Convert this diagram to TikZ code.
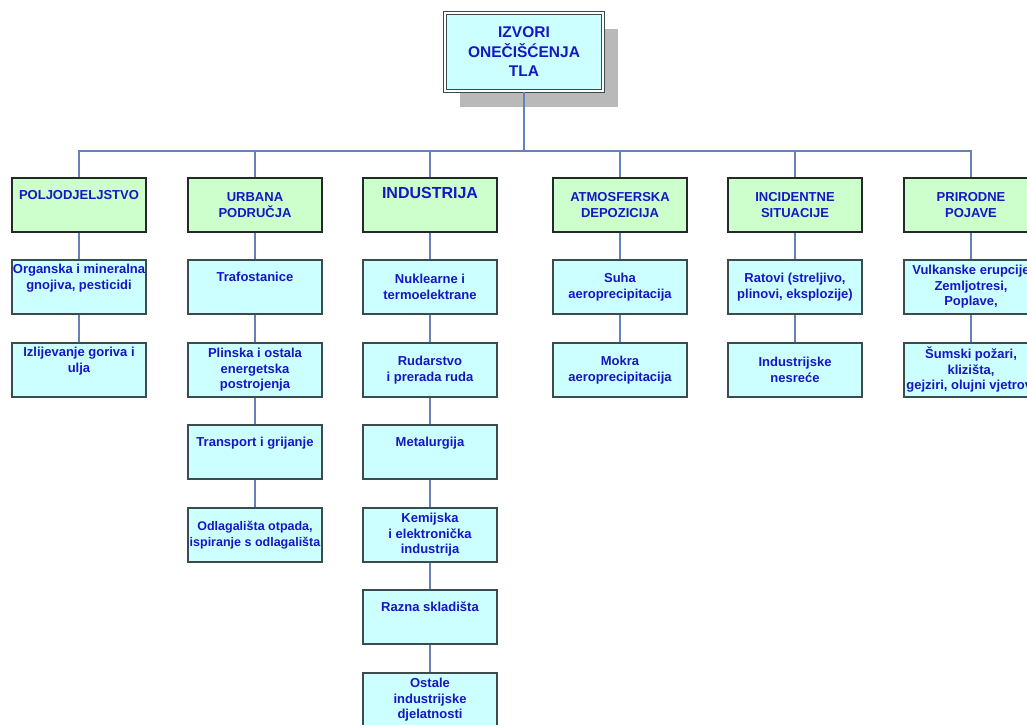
\documentclass[tikz,border=0pt]{standalone}
\usepackage{fontspec}
\setmainfont{Liberation Sans}
\usetikzlibrary{shadows}
\definecolor{txtblue}{RGB}{22,22,196}
\definecolor{catline}{RGB}{35,40,40}
\definecolor{leafline}{RGB}{60,75,75}
\definecolor{connblue}{RGB}{100,130,185}
\definecolor{catfill}{RGB}{204,255,204}
\definecolor{leaffill}{RGB}{204,255,255}
\definecolor{shadowgray}{RGB}{185,185,185}
\begin{document}
\begin{tikzpicture}[x=1pt,y=-1pt,
  every node/.style={font=\bfseries\fontsize{13}{15.5}\selectfont, text=txtblue, align=center, inner sep=1pt},
  srcbox/.style={draw=leafline, line width=1.1pt, double=white, double distance=1.4pt, fill=leaffill,
    minimum width=158pt, minimum height=78pt, font=\bfseries\fontsize{15.5}{19.5}\selectfont,
    drop shadow={shadow xshift=15pt, shadow yshift=-16pt, fill=shadowgray, opacity=1}},
  cat/.style={draw=catline, line width=1.8pt, fill=catfill, minimum width=134pt, minimum height=54pt},
  leaf/.style={draw=leafline, line width=1.4pt, fill=leaffill, minimum width=134pt, minimum height=54pt},
  conn/.style={draw=connblue, line width=1.4pt}]
\useasboundingbox (0,0) rectangle (1027,724);
\fill[white] (0,0) rectangle (1027,724);
% root
\node[srcbox] (src) at (524,52) {IZVORI\\ONEČIŠĆENJA\\TLA};
\coordinate (bus) at (524,151);
% categories
\node[cat] (polj) at (79,205) {POLJODJELJSTVO\\\strut};
\node[cat] (urb) at (255,205) {URBANA\\PODRUČJA};
\node[cat, font=\bfseries\fontsize{16}{18}\selectfont] (ind) at (430,205) {INDUSTRIJA\\\strut};
\node[cat] (atm) at (620,205) {ATMOSFERSKA\\DEPOZICIJA};
\node[cat] (inc) at (795,205) {INCIDENTNE\\SITUACIJE};
\node[cat] (pri) at (971,205) {PRIRODNE\\POJAVE};
% poljodjeljstvo
\node[leaf] (polj1) at (79,287) {Organska i mineralna\\gnojiva, pesticidi\\\strut};
\node[leaf] (polj2) at (79,370) {Izlijevanje goriva i\\ulja\\\strut};
% urbana podrucja
\node[leaf] (urb1) at (255,287) {Trafostanice\\\strut};
\node[leaf] (urb2) at (255,370) {Plinska i ostala\\energetska\\postrojenja};
\node[leaf] (urb3) at (255,452) {Transport i grijanje\\\strut};
\node[leaf, font=\bfseries\fontsize{12.5}{15.5}\selectfont] (urb4) at (255,535) {Odlagališta otpada,\\ispiranje s odlagališta};
% industrija
\node[leaf] (ind1) at (430,287) {Nuklearne i\\termoelektrane};
\node[leaf] (ind2) at (430,370) {Rudarstvo\\i prerada ruda};
\node[leaf] (ind3) at (430,452) {Metalurgija\\\strut};
\node[leaf] (ind4) at (430,535) {Kemijska\\i elektronička\\industrija};
\node[leaf] (ind5) at (430,617) {Razna skladišta\\\strut};
\node[leaf] (ind6) at (430,700) {Ostale\\industrijske\\djelatnosti};
% atmosferska depozicija
\node[leaf] (atm1) at (620,287) {Suha\\aeroprecipitacija};
\node[leaf] (atm2) at (620,370) {Mokra\\aeroprecipitacija};
% incidentne situacije
\node[leaf] (inc1) at (795,287) {Ratovi (streljivo,\\plinovi, eksplozije)};
\node[leaf] (inc2) at (795,370) {Industrijske\\nesreće};
% prirodne pojave
\node[leaf] (pri1) at (971,287) {Vulkanske erupcije\\Zemljotresi,\\Poplave,};
\node[leaf] (pri2) at (971,370) {Šumski požari,\\klizišta,\\gejziri, olujni vjetrovi};
% connectors
\draw[conn] (src) -- (bus);
\foreach \c in {polj,urb,ind,atm,inc,pri}
  \draw[conn] (bus) -| (\c.north);
\draw[conn] (polj) -- (polj1) -- (polj2);
\draw[conn] (urb) -- (urb1) -- (urb2) -- (urb3) -- (urb4);
\draw[conn] (ind) -- (ind1) -- (ind2) -- (ind3) -- (ind4) -- (ind5) -- (ind6);
\draw[conn] (atm) -- (atm1) -- (atm2);
\draw[conn] (inc) -- (inc1) -- (inc2);
\draw[conn] (pri) -- (pri1) -- (pri2);
\end{tikzpicture}
\end{document}
